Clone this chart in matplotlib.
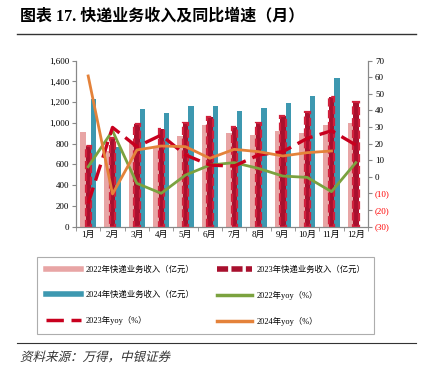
import matplotlib.pyplot as plt
from matplotlib.lines import Line2D
from matplotlib.ticker import FuncFormatter
from matplotlib.textpath import TextPath
from matplotlib.patches import PathPatch
from matplotlib.font_manager import FontProperties
from matplotlib.transforms import Affine2D, IdentityTransform
import numpy as np

plt.rcParams['font.family'] = ['Liberation Serif', 'Noto Sans CJK SC']

months = ['1月', '2月', '3月', '4月', '5月', '6月', '7月', '8月', '9月', '10月', '11月', '12月']
rev_2022 = [915, 730, 806, 758, 874, 980, 900, 884, 925, 903, 980, 999]
rev_2023 = [778, 852, 987, 938, 996, 1060, 957, 1002, 1067, 1108, 1247, 1202]
rev_2024 = [1230, 765, 1131, 1099, 1163, 1163, 1112, 1144, 1192, 1259, 1433]
yoy_2022 = [6.1, 27.8, -3.9, -9.9, 1.1, 7.1, 8.6, 5.1, 0.5, -0.3, -8.9, 8.6]
yoy_2023 = [-16.0, 29.8, 18.2, 25.2, 13.2, 7.1, 6.5, 13.2, 15.2, 23.2, 27.8, 19.2]
yoy_2024 = [60.8, -10.3, 16.2, 18.6, 18.2, 11.2, 16.6, 15.2, 12.6, 14.6, 15.6]

c_2022 = '#e8a5a5'
c_2023 = '#a8102e'
c_2024 = '#3d98b0'
c_g = '#7ba23f'
c_r = '#c8001e'
c_o = '#e4823a'

fig = plt.figure(figsize=(4.23, 3.71), dpi=100)
ax = fig.add_axes([0.1797, 0.389, 0.6903, 0.4474])
ax2 = ax.twinx()

x = np.arange(len(months))
w = 0.22
ax.bar(x - w, rev_2022, w, color=c_2022, zorder=2)
ax.bar(x, rev_2023, w, color=c_2023, edgecolor='#d0203c', linestyle='--', linewidth=1.6, zorder=3)
ax.bar(np.arange(len(rev_2024)) + w, rev_2024, w, color=c_2024, zorder=2)

ax2.plot(x, yoy_2022, color=c_g, lw=2, zorder=4)
ax2.plot(x, yoy_2023, color=c_r, lw=2.4, dashes=(5, 2.2), zorder=5)
ax2.plot(np.arange(len(yoy_2024)), yoy_2024, color=c_o, lw=2, zorder=6)

ax.set_xlim(-0.5, 11.5)
ax.set_ylim(0, 1600)
ax.set_yticks(range(0, 1601, 200))
ax.yaxis.set_major_formatter(FuncFormatter(lambda v, p: f'{int(v):,}'))
ax2.set_ylim(-30, 70)
ax2.set_yticks(range(-30, 71, 10))
ax2.yaxis.set_major_formatter(FuncFormatter(lambda v, p: f'({abs(int(v))})' if v < 0 else f'{int(v)}'))

ax.set_xticks(x)
ax.set_xticklabels(months)
ax.set_xticks(np.arange(-0.5, 12, 1), minor=True)
ax.tick_params(axis='x', which='major', length=0, labelsize=6.5, pad=3)
ax.tick_params(axis='x', which='minor', length=3, color='#888888')
ax.tick_params(axis='y', labelsize=6.5, length=3, color='#888888', pad=2)
ax2.tick_params(axis='y', labelsize=6.5, length=3, color='#888888', pad=2)
fig.canvas.draw()
for lab in ax2.get_yticklabels():
    if lab.get_text().startswith('('):
        lab.set_color('red')

for a in (ax, ax2):
    a.spines['top'].set_visible(False)
    for s in ('left', 'right', 'bottom'):
        a.spines[s].set_color('#888888')
        a.spines[s].set_linewidth(0.8)

h_2022 = Line2D([], [], color=c_2022, lw=4)
h_2023 = Line2D([], [], color=c_2023, lw=4, dashes=(2, 0.6))
h_2024 = Line2D([], [], color=c_2024, lw=4)
h_g = Line2D([], [], color=c_g, lw=2.5)
h_r = Line2D([], [], color=c_r, lw=2.5, dashes=(5, 2.2))
h_o = Line2D([], [], color=c_o, lw=2.5)
# legend fills column by column, so order the entries for row-wise reading
handles = [h_2022, h_2024, h_r, h_2023, h_g, h_o]
labels = ['2022年快递业务收入（亿元）', '2024年快递业务收入（亿元）', '2023年yoy（%）',
          '2023年快递业务收入（亿元）', '2022年yoy（%）', '2024年yoy（%）']
leg = fig.legend(handles, labels, ncol=2, loc='upper left',
                 bbox_to_anchor=(33 / 423, 1 - 331.7 / 371, 345 / 423, 79 / 371),
                 mode='expand', fontsize=6, frameon=True, fancybox=False,
                 edgecolor='#999999', handlelength=4.3, handletextpad=0.5,
                 labelspacing=2.05, borderpad=1.0, columnspacing=1.0)
leg.get_frame().set_linewidth(0.8)

fig.text(20 / 423, 1 - 16 / 371, '图表 17. 快递业务收入及同比增速（月）', fontsize=11.5,
         fontweight='bold', va='center', ha='left')
fig.add_artist(Line2D([17 / 423, 416 / 423], [1 - 34 / 371] * 2, color='#333333', lw=1))
fig.add_artist(Line2D([17 / 423, 416 / 423], [1 - 343 / 371] * 2, color='#333333', lw=0.8))

# slanted source note (CJK font has no italic face)
src = TextPath((0, 0), '资料来源：万得，中银证券',
               prop=FontProperties(family='Noto Sans CJK SC', size=9))
tr = Affine2D().scale(100 / 72).skew_deg(14, 0).translate(20, 371 - 361)
fig.add_artist(PathPatch(tr.transform_path(src), transform=IdentityTransform(),
                         color='#333333', lw=0))

fig.savefig('out.png', dpi=100)
